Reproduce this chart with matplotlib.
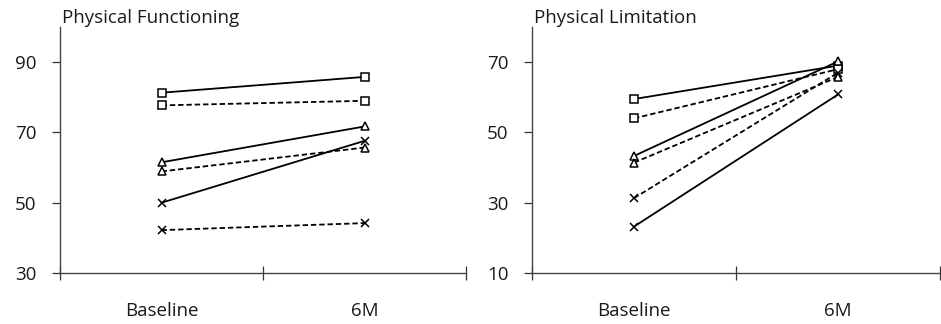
import matplotlib
matplotlib.use("Agg")
import matplotlib.pyplot as plt

plt.rcParams['font.family'] = ['Open Sans', 'DejaVu Sans']

timepoints = ["Baseline", "6M"]

# Physical Functioning scores per group (baseline, 6 months)
pf_square_solid = [81.3, 85.8]
pf_square_dashed = [77.7, 79.0]
pf_triangle_solid = [61.5, 71.7]
pf_triangle_dashed = [58.9, 65.7]
pf_cross_solid = [50.0, 67.6]
pf_cross_dashed = [42.2, 44.2]

# Physical Limitation scores per group (baseline, 6 months)
pl_square_solid = [59.5, 69.0]
pl_square_dashed = [54.0, 68.0]
pl_triangle_solid = [43.3, 70.2]
pl_triangle_dashed = [41.4, 65.8]
pl_cross_solid = [23.2, 60.8]
pl_cross_dashed = [31.3, 67.0]

pf_ticks = [30, 50, 70, 90]
pl_ticks = [10, 30, 50, 70]

DASH = (0, (3.0, 1.6))

def draw_panel(ax, title, series, ylim, yticks):
    xs = [0.5, 1.5]
    for vals, marker, ls in series:
        ax.plot(xs, vals, color="black", linestyle=ls, linewidth=1.3,
                marker=marker, markersize=5.5, markerfacecolor="white",
                markeredgecolor="black", markeredgewidth=1.1)
    ax.set_xlim(0, 2)
    ax.set_ylim(*ylim)
    ax.set_yticks(yticks)
    ax.set_xticks([0, 1, 2])
    ax.set_xticklabels([])
    ax.set_xticks(xs, minor=True)
    ax.set_xticklabels(timepoints, minor=True)
    ax.tick_params(axis="x", which="minor", length=0, pad=21, labelsize=13.5,
                   labelcolor="#1a1a1a")
    ax.tick_params(axis="x", which="major", direction="inout", length=10,
                   width=0.9, color="#333333")
    ax.tick_params(axis="y", direction="out", length=6, width=0.9,
                   color="#333333", labelsize=13.5, pad=11,
                   labelcolor="#1a1a1a")
    for side in ("top", "right"):
        ax.spines[side].set_visible(False)
    for side in ("left", "bottom"):
        ax.spines[side].set_color("#444444")
        ax.spines[side].set_linewidth(1.0)
    ax.text(0.006, 1.0, title, transform=ax.transAxes, ha="left",
            va="bottom", fontsize=13.5, color="#1a1a1a")

fig = plt.figure(figsize=(9.41, 3.24), dpi=100)
ax1 = fig.add_axes([60 / 941, 51 / 324, 406 / 941, 246 / 324])
ax2 = fig.add_axes([532 / 941, 51 / 324, 408 / 941, 246 / 324])

draw_panel(ax1, "Physical Functioning", [
    (pf_square_solid, "s", "-"),
    (pf_square_dashed, "s", DASH),
    (pf_triangle_solid, "^", "-"),
    (pf_triangle_dashed, "^", DASH),
    (pf_cross_solid, "x", "-"),
    (pf_cross_dashed, "x", DASH),
], (30, 100), pf_ticks)

draw_panel(ax2, "Physical Limitation", [
    (pl_square_solid, "s", "-"),
    (pl_square_dashed, "s", DASH),
    (pl_triangle_solid, "^", "-"),
    (pl_triangle_dashed, "^", DASH),
    (pl_cross_solid, "x", "-"),
    (pl_cross_dashed, "x", DASH),
], (10, 80), pl_ticks)

fig.savefig("out.png", dpi=100, facecolor="white")
